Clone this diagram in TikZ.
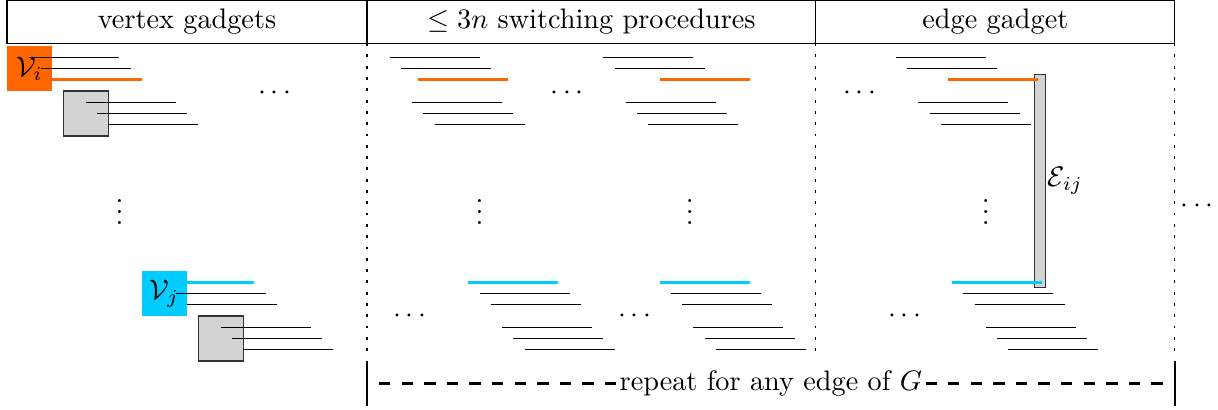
\documentclass[tikz,border=0pt]{standalone}
\usepackage{amsmath,amssymb}
\usepackage{tikz}
\usetikzlibrary{positioning}
\definecolor{vorange}{RGB}{255,102,0}
\definecolor{vcyan}{RGB}{0,204,255}
\definecolor{gadgetgray}{RGB}{211,211,211}
\tikzset{
  wire/.style={line width=0.5pt},
  owire/.style={draw=vorange, line width=1pt},
  cwire/.style={draw=vcyan, line width=1pt},
  vbox/.style={rectangle, minimum size=0.56cm, inner sep=0pt},
  gbox/.style={rectangle, draw=black!80, fill=gadgetgray, minimum size=0.56cm, inner sep=0pt},
  colsep/.style={dash pattern=on 1pt off 3pt},
  repline/.style={thick, dash pattern=on 4pt off 4pt},
}

\begin{document}
\begin{tikzpicture}[x=0.14cm, y=0.14cm]
\useasboundingbox (-0.62,4.09) rectangle (107.64,-32.27);

% ========== Header ==========
\draw (0,0.25) rectangle (103.8,4.04);
\draw (32,0.25) -- (32,4.04);
\draw (71.9,0.25) -- (71.9,4.04);
\node (hvertex) at (16,2.15)    {vertex gadgets};
\node (hswitch) at (51.95,2.15) {$\leq 3n$ switching procedures};
\node (hedge)   at (87.85,2.15) {edge gadget};

% column borders
\draw[colsep] (32,0.25) -- (32,-27.6);
\draw[colsep] (71.9,0.25) -- (71.9,-27.6);
\draw[colsep] (103.8,0.25) -- (103.8,-27.6);

% ========== Vertex gadgets ==========

% vertex i
\draw[owire] (4,-3) -- ++(8,0);
\node[vbox, fill=vorange] (Vi) at (2,-2) {$\mathcal{V}_i$};
\foreach \k in {1,2} \draw[wire] (1+\k,-\k) -- ++(8,0);
\node[gbox] (G1) at (7,-6) {};
\foreach \k in {1,2,3} \draw[wire] (6+\k,-4-\k) -- ++(8,0);

% vertex j
\draw[cwire] (14,-21) -- ++(8,0);
\node[vbox, fill=vcyan] (Vj) at (14,-22) {$\mathcal{V}_j$};
\foreach \k in {2,3} \draw[wire] (13+\k,-20-\k) -- ++(8,0);
\node[gbox] (G2) at (19,-26) {};
\foreach \k in {1,2,3} \draw[wire] (18+\k,-24-\k) -- ++(8,0);

\node (vhdots) at (24,-4.2) {$\cdots$};
\node (vvdots) at (10,-14)  {$\vdots$};

% ========== Edge gadget (bar below the wires) ==========
\node[gbox, minimum width=0.14cm, minimum height=2.66cm] (Eij) at (91.8,-12) {};
\node[right=0pt of Eij, inner sep=0.5pt] (Elab) {$\mathcal{E}_{ij}$};

% ========== Switching procedures + edge gadget wires ==========
% upper half: x of first wire / orange wire / lower group
\foreach \x/\o/\b in {34/36.5/36, 53/58/55, 79/83.6/81} {
  \draw[wire] (\x,-1) -- ++(8,0);
  \draw[wire] (\x+1,-2) -- ++(8,0);
  \draw[owire] (\o,-3) -- ++(8,0);
  \foreach \k in {0,1,2} \draw[wire] (\b+\k,-5-\k) -- ++(8,0);
}
% lower half
\foreach \x in {41,58,84} {
  \draw[cwire] (\x,-21) -- ++(8,0);
  \foreach \k in {1,2} \draw[wire] (\x+\k,-21-\k) -- ++(8,0);
  \foreach \k in {3,4,5} \draw[wire] (\x+\k,-22-\k) -- ++(8,0);
}

\node (shdots1) at (50,-4.2)  {$\cdots$};
\node (svdots1) at (42,-14)   {$\vdots$};
\node (svdots2) at (60.7,-14) {$\vdots$};
\node (sldots1) at (36,-24)   {$\cdots$};
\node (sldots2) at (56,-24)   {$\cdots$};
\node (ehdots)  at (76,-4.2)  {$\cdots$};
\node (evdots)  at (87,-14)   {$\vdots$};
\node (eldots)  at (80,-24)   {$\cdots$};
\node (rdots)   at (106,-14.2) {$\cdots$};

% ========== Repeat ==========
\node[inner sep=1pt] (rep) at (67.9,-30) {repeat for any edge of $G$};
\coordinate (repL) at (32,-30);
\coordinate (repR) at (103.8,-30);
\draw[repline] (rep.west) -- (repL);
\draw[repline] (rep.east) -- (repR);
\draw[thick] (32,-28) -- (32,-32);
\draw[thick] (103.8,-28) -- (103.8,-32);

\end{tikzpicture}
\end{document}
